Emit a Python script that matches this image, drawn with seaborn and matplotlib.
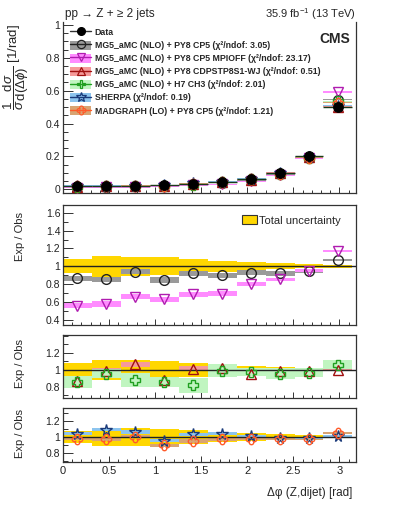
import numpy as np
import matplotlib
matplotlib.use("Agg")
import matplotlib.pyplot as plt
import seaborn as sns
from matplotlib.path import Path
from matplotlib.patches import Patch
from matplotlib.lines import Line2D
from matplotlib.ticker import MultipleLocator

# ---------------- data ----------------
bin_edges = [0.0, 0.314, 0.628, 0.942, 1.257, 1.571, 1.885, 2.199, 2.513, 2.827, 3.142]

data_val = [0.018, 0.019, 0.019, 0.024, 0.034, 0.044, 0.061, 0.099, 0.200, 0.503]

# top-panel model predictions (normalised cross section)
mg5_cp5 = [0.0156, 0.0162, 0.0179, 0.0203, 0.0313, 0.0396, 0.0567, 0.0913, 0.190, 0.545]
mg5_mpioff = [0.0101, 0.0110, 0.0125, 0.0151, 0.0234, 0.0305, 0.0488, 0.0846, 0.190, 0.592]
mg5_cdp = [0.0157, 0.0188, 0.0202, 0.0212, 0.0343, 0.0447, 0.0580, 0.0980, 0.198, 0.503]
mg5_h7 = [0.0155, 0.0181, 0.0167, 0.0206, 0.0277, 0.0436, 0.0595, 0.0945, 0.193, 0.535]
sherpa = [0.0187, 0.0207, 0.0201, 0.0228, 0.0350, 0.0458, 0.0616, 0.0975, 0.197, 0.508]
madgraph_lo = [0.0176, 0.0184, 0.0190, 0.0215, 0.0322, 0.0425, 0.0595, 0.0957, 0.193, 0.528]

# ratios Exp / Obs
r_cp5 = [0.866, 0.855, 0.940, 0.847, 0.922, 0.900, 0.929, 0.922, 0.948, 1.071]
r_mpioff = [0.560, 0.579, 0.660, 0.631, 0.687, 0.694, 0.800, 0.855, 0.951, 1.175]
r_cdp = [0.870, 0.990, 1.065, 0.885, 1.010, 1.015, 0.950, 0.990, 0.990, 1.000]
r_h7 = [0.860, 0.955, 0.880, 0.860, 0.815, 0.990, 0.975, 0.955, 0.965, 1.060]
r_sherpa = [1.040, 1.090, 1.060, 0.950, 1.030, 1.040, 1.010, 0.985, 0.985, 1.010]
r_madgraph = [0.975, 0.967, 1.000, 0.895, 0.946, 0.967, 0.975, 0.967, 0.967, 1.050]

# uncertainties (half widths) in ratio
tot_unc = [0.078, 0.115, 0.110, 0.100, 0.085, 0.060, 0.048, 0.033, 0.022, 0.015]
e_cp5 = [0.030, 0.030, 0.030, 0.030, 0.025, 0.025, 0.025, 0.025, 0.020, 0.015]
e_mpioff = [0.030, 0.030, 0.030, 0.030, 0.025, 0.025, 0.025, 0.020, 0.015, 0.012]
e_cdp = [0.030, 0.030, 0.030, 0.030, 0.030, 0.025, 0.025, 0.020, 0.015, 0.012]
e_h7 = [0.070, 0.050, 0.086, 0.060, 0.085, 0.075, 0.050, 0.065, 0.050, 0.050]
e_sherpa = [0.020, 0.020, 0.020, 0.020, 0.020, 0.018, 0.015, 0.012, 0.010, 0.010]
e_madgraph = [0.020, 0.020, 0.020, 0.020, 0.020, 0.018, 0.015, 0.012, 0.010, 0.010]

labels = [
    "MG5_aMC (NLO) + PY8 CP5 (\u03c7\u00b2/ndof: 3.05)",
    "MG5_aMC (NLO) + PY8 CP5 MPIOFF (\u03c7\u00b2/ndof: 23.17)",
    "MG5_aMC (NLO) + PY8 CDPSTP8S1-WJ (\u03c7\u00b2/ndof: 0.51)",
    "MG5_aMC (NLO) + H7 CH3 (\u03c7\u00b2/ndof: 2.01)",
    "SHERPA (\u03c7\u00b2/ndof: 0.19)",
    "MADGRAPH (LO) + PY8 CP5 (\u03c7\u00b2/ndof: 1.21)",
]

# ---------------- style ----------------
sns.set_theme(style="ticks")
plt.rcParams["font.family"] = ["Liberation Sans", "DejaVu Sans"]
plt.rcParams["mathtext.fontset"] = "custom"
plt.rcParams["mathtext.rm"] = "Liberation Sans"
plt.rcParams["mathtext.it"] = "Liberation Sans:italic"
plt.rcParams["mathtext.bf"] = "Liberation Sans:bold"
plt.rcParams["mathtext.sf"] = "Liberation Sans"
plt.rcParams["axes.edgecolor"] = "#333333"
plt.rcParams["axes.linewidth"] = 0.9

edges = np.array(bin_edges)
centers = 0.5 * (edges[:-1] + edges[1:])
widths = np.diff(edges)

# clover marker
th = np.linspace(0, 2 * np.pi, 121)
rr = 0.45 + 0.55 * np.abs(np.cos(2 * th)) ** 0.6
clover = Path(np.column_stack([rr * np.cos(th), rr * np.sin(th)]), closed=True)

styles = [
    dict(marker="o", mec="#222222", band="#9a9a9a", ms=7.0),
    dict(marker="v", mec="#b01cb0", band="#ff8cff", ms=7.0),
    dict(marker="^", mec="#a01010", band="#f59a9a", ms=7.0),
    dict(marker="P", mec="#20a020", band="#c0f5c0", ms=7.5),
    dict(marker="*", mec="#1a3a7a", band="#8cc4ee", ms=8.5),
    dict(marker=clover, mec="#ff5a2a", band="#d9a472", ms=7.5),
]
top_vals = [mg5_cp5, mg5_mpioff, mg5_cdp, mg5_h7, sherpa, madgraph_lo]
ratios = [r_cp5, r_mpioff, r_cdp, r_h7, r_sherpa, r_madgraph]
errs = [e_cp5, e_mpioff, e_cdp, e_h7, e_sherpa, e_madgraph]

W, H = 399, 519
fig = plt.figure(figsize=(W / 100, H / 100), dpi=100)


def add_ax(top_px, bot_px):
    x0, x1 = 63, 356
    return fig.add_axes([x0 / W, 1 - bot_px / H, (x1 - x0) / W, (bot_px - top_px) / H])


def style_ax(ax, ylim, ymaj, ymin, xlabels=False):
    ax.set_xlim(0, 3.18)
    ax.set_ylim(*ylim)
    ax.xaxis.set_major_locator(MultipleLocator(0.5))
    ax.xaxis.set_minor_locator(MultipleLocator(0.1))
    ax.yaxis.set_major_locator(MultipleLocator(ymaj))
    ax.yaxis.set_minor_locator(MultipleLocator(ymin))
    ax.tick_params(which="both", direction="in", labelsize=7.5, colors="#333333",
                   labelcolor="#222222", width=0.7, pad=2)
    ax.tick_params(axis="y", which="major", length=7)
    ax.tick_params(axis="y", which="minor", length=3.5)
    ax.tick_params(axis="x", which="major", length=4)
    ax.tick_params(axis="x", which="minor", length=2)
    if not xlabels:
        ax.tick_params(axis="x", labelbottom=False)
    ax.set_xlabel("")
    ax.set_ylabel("")


def draw_markers(ax, x, y, st, z=6):
    sns.lineplot(x=x, y=y, ax=ax, marker=st["marker"], linestyle="", mfc="none",
                 mec=st["mec"], mew=1.0, ms=st["ms"], color=st["mec"],
                 estimator=None, errorbar=None, legend=False, zorder=z)


# ---------------- top panel ----------------
ax1 = add_ax(21.7, 193)
for vals, st in zip(top_vals, styles):
    v = np.array(vals)
    ax1.bar(centers, 0.008, bottom=v - 0.004, width=widths, color=st["band"],
            linewidth=0, zorder=2)
for vals, st in zip(top_vals, styles):
    draw_markers(ax1, centers, vals, st)
ax1.hlines(data_val, edges[:-1], edges[1:], color="#1a3a1a", lw=1.0, zorder=7)
sns.lineplot(x=centers, y=data_val, ax=ax1, marker="o", linestyle="", mfc="black",
             mec="black", ms=7, color="black", estimator=None, errorbar=None,
             legend=False, zorder=8)
style_ax(ax1, (-0.023, 1.02), 0.2, 0.05)
ax1.set_yticks([0, 0.2, 0.4, 0.6, 0.8, 1.0])
ax1.set_yticklabels(["0", "0.2", "0.4", "0.6", "0.8", "1"])
ax1.spines["top"].set_visible(False)

handles = [Line2D([], [], color="#333333", lw=1, marker="o", mfc="black", mec="black", ms=5.5)]
for st in styles:
    handles.append((Patch(fc=st["band"], ec="none"),
                    Line2D([], [], color=st["mec"], lw=1, marker=st["marker"], mfc="none",
                           mec=st["mec"], mew=0.9, ms=st["ms"] * 0.85)))
leg = ax1.legend(handles, ["Data"] + labels, loc="upper left", bbox_to_anchor=(0.024, 0.966),
                 frameon=False, prop=dict(size=6.3, weight="bold"), handlelength=2.4,
                 handleheight=1.25, labelspacing=0.4, handletextpad=0.4, borderpad=0,
                 borderaxespad=0)

fig.text(350 / W, 1 - 39 / H, "CMS", ha="right", va="center", fontsize=10, fontweight="bold")
fig.text(65 / W, 1 - 14 / H, "pp \u2192 Z + \u2265 2 jets", ha="left", va="center", fontsize=8.5)
fig.text(356 / W, 1 - 14 / H, r"35.9 fb$^{-1}$ (13 TeV)", ha="right", va="center", fontsize=8)
fig.text(16 / W, 1 - 24 / H,
         r"$\dfrac{1}{\sigma}\dfrac{\mathrm{d}\sigma}{\mathrm{d}(\Delta\phi)}$ [1/rad]",
         rotation=90, ha="center", va="top", fontsize=9.5)


# ---------------- ratio panels ----------------
def ratio_panel(ax, idxs):
    ax.bar(centers, 2 * np.array(tot_unc), bottom=1 - np.array(tot_unc), width=widths,
           color="#ffd700", linewidth=0, zorder=1)
    for i in idxs:
        r = np.array(ratios[i]); e = np.array(errs[i])
        ax.bar(centers, 2 * e, bottom=r - e, width=widths, color=styles[i]["band"],
               linewidth=0, zorder=2 + i * 0.01)
    ax.axhline(1.0, color="#222222", lw=1.0, zorder=4)
    for i in idxs:
        draw_markers(ax, centers, ratios[i], styles[i])


ax2 = add_ax(205, 325)
ratio_panel(ax2, [0, 1])
style_ax(ax2, (0.344, 1.686), 0.2, 0.1)
ax2.set_yticks([0.4, 0.6, 0.8, 1.0, 1.2, 1.4, 1.6])
ax2.set_yticklabels(["0.4", "0.6", "0.8", "1", "1.2", "1.4", "1.6"])
ax2.legend([Patch(fc="#ffd700", ec="#333333", lw=0.8)], ["Total uncertainty"],
           loc="upper left", bbox_to_anchor=(0.61, 0.915), frameon=False,
           prop=dict(size=8), handlelength=1.35, handleheight=0.9, handletextpad=0.2,
           borderpad=0, borderaxespad=0)

ax3 = add_ax(335, 398)
ratio_panel(ax3, [2, 3])
style_ax(ax3, (0.667, 1.41), 0.2, 0.1)
ax3.set_yticks([0.8, 1.0, 1.2])
ax3.set_yticklabels(["0.8", "1", "1.2"])

ax4 = add_ax(408, 462)
ratio_panel(ax4, [4, 5])
style_ax(ax4, (0.684, 1.36), 0.2, 0.1, xlabels=True)
ax4.set_yticks([0.8, 1.0, 1.2])
ax4.set_yticklabels(["0.8", "1", "1.2"])
ax4.set_xticks([0, 0.5, 1, 1.5, 2, 2.5, 3])
ax4.set_xticklabels(["0", "0.5", "1", "1.5", "2", "2.5", "3"])
ax4.tick_params(axis="x", labelsize=8, pad=3)

for ypx in [236.5, 364, 433]:
    fig.text(20 / W, 1 - ypx / H, "Exp / Obs", rotation=90, ha="center", va="center", fontsize=8)

fig.text(352 / W, 1 - 493 / H, "\u0394\u03c6 (Z,dijet) [rad]", ha="right", va="center", fontsize=8.5)

fig.savefig("out.png", dpi=100)
